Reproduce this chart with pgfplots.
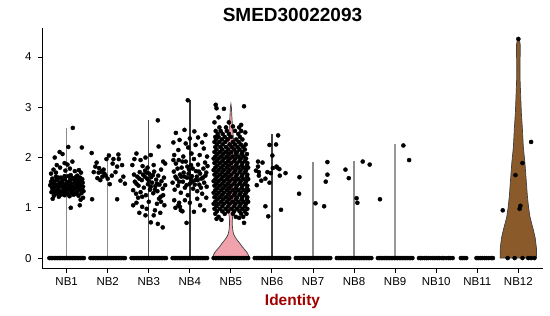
\documentclass[border=0pt]{standalone}
\usepackage{pgfplots}
\pgfplotsset{compat=1.18}
\usepackage{fontspec}
\setmainfont{Liberation Sans}
\definecolor{vpink}{HTML}{F0A3AD}
\definecolor{vbrown}{HTML}{8B5A2B}
\definecolor{labred}{HTML}{A00000}
\begin{document}
\begin{tikzpicture}
\useasboundingbox (0,0) rectangle (550pt,316pt);
\begin{axis}[
  at={(42pt,47pt)}, anchor=south west,
  scale only axis, width=501pt, height=241pt,
  xmin=0.4, xmax=12.6, ymin=-0.218, ymax=4.578,
  axis x line*=bottom, axis y line*=left,
  axis line style={-, black, line width=1pt},
  xtick={1,...,12},
  xticklabels={NB1,NB2,NB3,NB4,NB5,NB6,NB7,NB8,NB9,NB10,NB11,NB12},
  ytick={0,1,2,3,4},
  tick align=outside, major tick length=4pt,
  tick style={black, line width=1pt},
  /pgf/number format/assume math mode=true,
  ticklabel style={font=\fontsize{11.5}{13}\selectfont, text=black},
  yticklabel style={xshift=-3pt},
  xticklabel style={yshift=-1pt},
  every mark/.append style={solid},
]
% thin violins
\addplot[color=black!45, line width=1.4pt] coordinates {(1,0) (1,2.58)};
\addplot[color=black!45, line width=1.4pt] coordinates {(2,0) (2,2.09)};
\addplot[color=black!70, line width=1.4pt] coordinates {(3,0) (3,2.74)};
\addplot[color=black!80, line width=1.4pt] coordinates {(4,0) (4,3.14)};
\addplot[color=black!75, line width=1.4pt] coordinates {(6,0) (6,2.46)};
\addplot[color=black!45, line width=1.4pt] coordinates {(7,0) (7,1.92)};
\addplot[color=black!45, line width=1.4pt] coordinates {(8,0) (8,1.94)};
\addplot[color=black!40, line width=1.4pt] coordinates {(9,0) (9,2.26)};
% NB5 violin
\addplot[fill=vpink, draw=black!75, line width=0.7pt] coordinates {
(4.56,0) (4.57,0.05) (4.60,0.10) (4.66,0.165) (4.72,0.22) (4.79,0.30) (4.85,0.36) (4.90,0.42) (4.935,0.48) (4.955,0.56) (4.965,0.65) (4.965,0.75) (4.955,0.85) (4.93,1.0) (4.90,1.2) (4.88,1.4) (4.88,1.6) (4.89,1.8) (4.90,2.0) (4.92,2.2) (4.94,2.4) (4.96,2.6) (4.975,2.8) (4.988,3.0) (5,3.07)
(5.012,3.0) (5.025,2.8) (5.04,2.6) (5.06,2.4) (5.08,2.2) (5.10,2.0) (5.11,1.8) (5.12,1.6) (5.12,1.4) (5.10,1.2) (5.07,1.0) (5.045,0.85) (5.035,0.75) (5.035,0.65) (5.045,0.56) (5.065,0.48) (5.10,0.42) (5.15,0.36) (5.21,0.30) (5.28,0.22) (5.34,0.165) (5.40,0.10) (5.43,0.05) (5.44,0) (4.56,0)};
% NB12 violin
\addplot[fill=vbrown, draw=black!75, line width=0.7pt] coordinates {
(11.555,0) (11.56,0.2) (11.59,0.4) (11.635,0.56) (11.68,0.7) (11.72,0.83) (11.75,1.0) (11.78,1.23) (11.81,1.56) (11.84,1.89) (11.88,2.22) (11.90,2.55) (11.927,2.89) (11.943,3.22) (11.958,3.55) (11.96,3.88) (11.954,4.1) (11.955,4.25) (11.97,4.32) (12,4.36)
(12.03,4.32) (12.045,4.25) (12.046,4.1) (12.04,3.88) (12.042,3.55) (12.057,3.22) (12.073,2.89) (12.10,2.55) (12.12,2.22) (12.16,1.89) (12.19,1.56) (12.22,1.23) (12.25,1.0) (12.28,0.83) (12.32,0.7) (12.365,0.56) (12.41,0.4) (12.44,0.2) (12.445,0) (11.555,0)};
% points
\pgfplotsset{pts/.style={only marks, mark=*, mark size=2.05pt, black, mark options={draw=none, fill=black}}}
% zeros
\addplot[pts] coordinates {
(0.58,0) (0.62,0) (0.66,0) (0.70,0) (0.74,0) (0.78,0) (0.82,0) (0.86,0) (0.90,0) (0.94,0) (0.98,0) (1.02,0) (1.06,0) (1.10,0) (1.14,0) (1.18,0) (1.22,0) (1.26,0) (1.30,0) (1.34,0) (1.38,0) (1.42,0)
(1.58,0) (1.62,0) (1.66,0) (1.70,0) (1.74,0) (1.78,0) (1.82,0) (1.86,0) (1.90,0) (1.94,0) (1.98,0) (2.02,0) (2.06,0) (2.10,0) (2.14,0) (2.18,0) (2.22,0) (2.26,0) (2.30,0) (2.34,0) (2.38,0) (2.42,0)
(2.58,0) (2.62,0) (2.66,0) (2.70,0) (2.74,0) (2.78,0) (2.82,0) (2.86,0) (2.90,0) (2.94,0) (2.98,0) (3.02,0) (3.06,0) (3.10,0) (3.14,0) (3.18,0) (3.22,0) (3.26,0) (3.30,0) (3.34,0) (3.38,0) (3.42,0)
(3.58,0) (3.62,0) (3.66,0) (3.70,0) (3.74,0) (3.78,0) (3.82,0) (3.86,0) (3.90,0) (3.94,0) (3.98,0) (4.02,0) (4.06,0) (4.10,0) (4.14,0) (4.18,0) (4.22,0) (4.26,0) (4.30,0) (4.34,0) (4.38,0) (4.42,0)
(4.58,0) (4.62,0) (4.66,0) (4.70,0) (4.74,0) (4.78,0) (4.82,0) (4.86,0) (4.90,0) (4.94,0) (4.98,0) (5.02,0) (5.06,0) (5.10,0) (5.14,0) (5.18,0) (5.22,0) (5.26,0) (5.30,0) (5.34,0) (5.38,0) (5.42,0)
(5.58,0) (5.62,0) (5.66,0) (5.70,0) (5.74,0) (5.78,0) (5.82,0) (5.86,0) (5.90,0) (5.94,0) (5.98,0) (6.02,0) (6.06,0) (6.10,0) (6.14,0) (6.18,0) (6.22,0) (6.26,0) (6.30,0) (6.34,0) (6.38,0) (6.42,0)
(6.58,0) (6.62,0) (6.66,0) (6.70,0) (6.74,0) (6.78,0) (6.82,0) (6.86,0) (6.90,0) (6.94,0) (6.98,0) (7.02,0) (7.06,0) (7.10,0) (7.14,0) (7.18,0) (7.22,0) (7.26,0) (7.30,0) (7.34,0) (7.38,0) (7.42,0)
(7.58,0) (7.62,0) (7.66,0) (7.70,0) (7.74,0) (7.78,0) (7.82,0) (7.86,0) (7.90,0) (7.94,0) (7.98,0) (8.02,0) (8.06,0) (8.10,0) (8.14,0) (8.18,0) (8.22,0) (8.26,0) (8.30,0) (8.34,0) (8.38,0) (8.42,0)
(8.58,0) (8.62,0) (8.66,0) (8.70,0) (8.74,0) (8.78,0) (8.82,0) (8.86,0) (8.90,0) (8.94,0) (8.98,0) (9.02,0) (9.06,0) (9.10,0) (9.14,0) (9.18,0) (9.22,0) (9.26,0) (9.30,0) (9.34,0) (9.38,0) (9.42,0)
(9.58,0) (9.62,0) (9.66,0) (9.72,0) (9.76,0) (9.80,0) (9.86,0) (9.92,0) (9.97,0) (10.03,0) (10.08,0) (10.14,0) (10.18,0) (10.24,0) (10.30,0) (10.34,0) (10.40,0)
(10.60,0) (10.64,0) (10.68,0) (10.73,0) (10.98,0) (11.02,0) (11.07,0) (11.12,0) (11.18,0) (11.22,0) (11.28,0) (11.34,0) (11.38,0)
(11.74,0) (11.91,0) (12.10,0) (12.24,0) (12.31,0) (12.39,0)};
% NB1
\addplot[pts] coordinates {
(0.60,1.45) (0.63,1.31) (0.65,1.58) (0.67,1.40) (0.69,1.24) (0.70,1.52) (0.72,1.35) (0.74,1.62) (0.75,1.46) (0.77,1.28) (0.78,1.55) (0.80,1.39) (0.81,1.22) (0.83,1.49) (0.84,1.33) (0.86,1.60) (0.87,1.43) (0.89,1.27) (0.90,1.54) (0.92,1.37) (0.93,1.47) (0.95,1.25) (0.96,1.57) (0.98,1.41) (0.99,1.30) (1.01,1.51) (1.02,1.36) (1.04,1.63) (1.05,1.44) (1.07,1.23) (1.08,1.53) (1.10,1.34) (1.11,1.48) (1.13,1.29) (1.14,1.59) (1.16,1.42) (1.17,1.26) (1.19,1.50) (1.20,1.38) (1.22,1.61) (1.23,1.45) (1.25,1.31) (1.26,1.55) (1.28,1.40) (1.29,1.24) (1.31,1.52) (1.32,1.36) (1.34,1.47) (1.36,1.29) (1.38,1.57) (1.40,1.42) (1.41,1.33)
(0.62,1.52) (0.66,1.36) (0.68,1.48) (0.71,1.29) (0.73,1.43) (0.76,1.56) (0.79,1.32) (0.82,1.44) (0.85,1.26) (0.88,1.51) (0.91,1.30) (0.94,1.42) (0.97,1.35) (1.00,1.46) (1.03,1.28) (1.06,1.39) (1.09,1.58) (1.12,1.40) (1.15,1.33) (1.18,1.56) (1.21,1.28) (1.24,1.39) (1.27,1.48) (1.30,1.43) (1.33,1.60) (1.37,1.38) (1.39,1.50) (0.64,1.41) (0.80,1.60) (0.95,1.63) (1.10,1.65) (1.26,1.64)
(0.68,1.76) (0.76,1.85) (0.84,1.80) (0.95,1.89) (1.02,1.86) (0.71,2.00) (0.90,2.07) (0.83,2.11) (1.14,1.92) (1.04,2.21) (1.37,2.20) (1.15,2.59) (0.74,1.70) (1.20,1.73) (1.30,1.75) (0.62,1.68) (1.35,1.70) (0.97,1.74) (1.08,1.78)
(1.10,1.00) (1.32,1.05) (1.34,1.16) (0.66,1.18) (1.40,1.20)};
% NB2
\addplot[pts] coordinates {
(1.61,2.09) (1.73,1.90) (1.66,1.71) (1.97,1.97) (2.03,2.04) (2.14,1.97) (2.26,2.06) (2.27,1.97) (2.23,1.82) (2.19,1.71) (2.31,1.54) (2.05,1.47) (1.87,1.62) (1.95,1.64) (1.79,1.79) (1.85,1.72) (1.75,1.59) (1.62,1.17) (2.23,1.17) (1.70,1.82) (1.90,1.76) (2.10,1.64) (2.00,1.58) (2.38,1.62) (2.42,1.48) (1.78,1.70) (2.12,1.88) (1.92,1.68) (1.82,1.55) (2.35,1.85)};
% NB3
\addplot[pts] coordinates {
(2.62,1.35) (2.66,1.52) (2.69,1.28) (2.72,1.62) (2.75,1.44) (2.78,1.71) (2.80,1.31) (2.83,1.55) (2.86,1.66) (2.88,1.40) (2.91,1.74) (2.93,1.25) (2.96,1.58) (2.98,1.47) (3.01,1.68) (3.03,1.36) (3.06,1.61) (3.08,1.50) (3.11,1.29) (3.13,1.72) (3.16,1.43) (3.18,1.56) (3.21,1.33) (3.23,1.64) (3.26,1.46) (3.29,1.22) (3.31,1.53) (3.34,1.38) (3.37,1.60) (3.40,1.45) (2.70,1.48) (2.77,1.58) (2.84,1.22) (2.90,1.62) (2.95,1.70) (3.00,1.54) (3.05,1.42) (3.10,1.65) (3.15,1.36) (3.20,1.48) (3.25,1.18) (3.30,1.76) (2.64,1.66) (2.74,1.20) (2.97,1.80) (3.12,1.85) (2.85,1.83) (3.35,1.25)
(2.65,1.97) (2.70,2.08) (3.22,2.74) (3.24,2.22) (2.80,1.95) (3.35,1.92) (3.05,2.05) (2.92,2.00) (3.40,1.88) (2.60,1.85)
(2.77,0.90) (2.92,0.85) (3.05,0.71) (3.22,0.68) (3.34,0.61) (2.62,1.05) (2.84,1.02) (3.15,0.95) (3.28,0.90) (3.38,1.05) (2.70,1.10) (3.00,1.12) (3.12,0.85) (3.30,1.12) (2.95,0.98) (3.20,1.08)};
% NB4
\addplot[pts] coordinates {
(3.58,1.50) (3.61,1.72) (3.63,1.36) (3.66,1.88) (3.68,1.58) (3.71,1.44) (3.73,1.95) (3.76,1.66) (3.78,1.30) (3.80,1.80) (3.83,1.52) (3.85,1.70) (3.88,1.40) (3.90,1.92) (3.93,1.60) (3.95,1.25) (3.98,1.76) (4.00,1.48) (4.03,1.85) (4.05,1.63) (4.08,1.38) (4.10,1.97) (4.13,1.55) (4.15,1.73) (4.18,1.33) (4.20,1.86) (4.23,1.46) (4.25,1.68) (4.28,1.58) (4.30,1.28) (4.33,1.78) (4.35,1.50) (4.38,1.64) (4.41,1.42) (4.43,1.83) (3.65,1.62) (3.74,1.52) (3.82,1.92) (3.87,1.62) (3.92,1.45) (3.97,1.68) (4.02,1.58) (4.07,1.78) (4.12,1.46) (4.17,1.62) (4.22,1.72) (4.27,1.40) (4.32,1.60) (4.37,1.90) (3.70,1.78) (3.60,1.95) (4.40,1.70) (3.79,1.62) (4.06,1.52) (4.19,1.55) (3.94,1.82)
(3.62,2.05) (3.72,2.15) (3.84,2.02) (3.96,2.20) (4.04,2.08) (4.14,2.25) (4.24,2.05) (4.34,2.18) (4.42,2.02) (3.66,2.49) (3.87,2.55) (4.11,2.52) (3.95,3.14) (3.75,2.35) (4.20,2.40) (4.30,2.30) (3.60,2.30) (4.00,2.38) (4.38,2.45) (3.90,2.28)
(3.74,1.10) (3.76,1.02) (3.78,0.95) (3.82,0.93) (3.72,1.05) (3.92,0.70) (4.10,0.92) (4.25,1.05) (4.35,0.95) (3.62,1.15) (4.00,1.10) (4.18,1.18) (3.88,1.15) (4.40,1.20) (3.65,1.00)};
% NB5
\addplot[pts] coordinates {
(4.70,0.82) (5.12,0.82) (5.30,0.82)
(4.62,0.88) (4.85,0.88) (5.05,0.88) (5.25,0.88) (5.38,0.88)
(4.66,0.93) (4.79,0.93) (4.93,0.93) (5.08,0.93) (5.21,0.93) (5.34,0.93)
(4.60,0.98) (4.73,0.98) (4.87,0.98) (5.01,0.98) (5.15,0.98) (5.28,0.98) (5.40,0.98)
(4.65,1.03) (4.79,1.03) (4.93,1.03) (5.08,1.03) (5.21,1.03) (5.34,1.03)
(4.58,1.08) (4.70,1.08) (4.83,1.08) (4.97,1.08) (5.11,1.08) (5.24,1.08) (5.37,1.08)
(4.62,1.12) (4.76,1.12) (4.90,1.12) (5.04,1.12) (5.18,1.12) (5.31,1.12) (5.42,1.12)
(4.67,1.17) (4.81,1.17) (4.95,1.17) (5.12,1.17) (5.26,1.17) (5.39,1.17)
(4.60,1.21) (4.73,1.21) (4.87,1.21) (5.01,1.21) (5.15,1.21) (5.28,1.21) (5.40,1.21)
(4.65,1.26) (4.79,1.26) (4.93,1.26) (5.08,1.26) (5.21,1.26) (5.34,1.26)
(4.58,1.30) (4.70,1.30) (4.83,1.30) (4.97,1.30) (5.11,1.30) (5.24,1.30) (5.37,1.30)
(4.62,1.35) (4.76,1.35) (4.90,1.35) (5.04,1.35) (5.18,1.35) (5.31,1.35) (5.42,1.35)
(4.67,1.39) (4.81,1.39) (4.95,1.39) (5.12,1.39) (5.26,1.39) (5.39,1.39)
(4.60,1.44) (4.73,1.44) (4.87,1.44) (5.01,1.44) (5.15,1.44) (5.28,1.44) (5.40,1.44)
(4.65,1.48) (4.79,1.48) (4.93,1.48) (5.08,1.48) (5.21,1.48) (5.34,1.48)
(4.58,1.53) (4.70,1.53) (4.83,1.53) (4.97,1.53) (5.11,1.53) (5.24,1.53) (5.37,1.53)
(4.62,1.57) (4.76,1.57) (4.90,1.57) (5.04,1.57) (5.18,1.57) (5.31,1.57) (5.42,1.57)
(4.67,1.62) (4.81,1.62) (4.95,1.62) (5.12,1.62) (5.26,1.62) (5.39,1.62)
(4.60,1.66) (4.73,1.66) (4.87,1.66) (5.01,1.66) (5.15,1.66) (5.28,1.66) (5.40,1.66)
(4.65,1.71) (4.79,1.71) (4.93,1.71) (5.08,1.71) (5.21,1.71) (5.34,1.71)
(4.58,1.75) (4.70,1.75) (4.83,1.75) (4.97,1.75) (5.11,1.75) (5.24,1.75) (5.37,1.75)
(4.62,1.80) (4.76,1.80) (4.90,1.80) (5.04,1.80) (5.18,1.80) (5.31,1.80) (5.42,1.80)
(4.67,1.84) (4.81,1.84) (4.95,1.84) (5.12,1.84) (5.26,1.84) (5.39,1.84)
(4.60,1.89) (4.73,1.89) (4.87,1.89) (5.01,1.89) (5.15,1.89) (5.28,1.89) (5.40,1.89)
(4.65,1.93) (4.79,1.93) (4.93,1.93) (5.08,1.93) (5.21,1.93) (5.34,1.93)
(4.58,1.98) (4.70,1.98) (4.83,1.98) (4.97,1.98) (5.11,1.98) (5.24,1.98) (5.37,1.98)
(4.62,2.02) (4.76,2.02) (4.90,2.02) (5.04,2.02) (5.18,2.02) (5.31,2.02)
(4.67,2.07) (4.81,2.07) (4.95,2.07) (5.12,2.07) (5.26,2.07) (5.39,2.07)
(4.60,2.11) (4.73,2.11) (4.87,2.11) (5.01,2.11) (5.15,2.11) (5.28,2.11)
(4.65,2.16) (4.79,2.16) (4.93,2.16) (5.08,2.16) (5.21,2.16) (5.34,2.16)
(4.62,2.21) (4.74,2.21) (4.88,2.21) (5.02,2.21) (5.16,2.21) (5.30,2.21)
(4.66,2.26) (4.80,2.26) (4.97,2.26) (5.10,2.26) (5.24,2.26) (5.36,2.26)
(4.60,2.31) (4.72,2.31) (4.86,2.31) (5.05,2.31) (5.19,2.31)
(4.64,2.36) (4.78,2.36) (4.92,2.36) (5.13,2.36) (5.28,2.36)
(4.62,2.41) (4.70,2.41) (4.85,2.41) (5.00,2.41) (5.22,2.41)
(4.68,2.47) (4.80,2.47) (4.95,2.47) (5.18,2.47)
(4.63,2.53) (4.75,2.53) (4.90,2.53) (5.10,2.53) (5.25,2.53)
(4.72,2.60) (4.88,2.60) (5.20,2.60)
(4.63,3.05) (4.65,2.98) (4.83,2.97) (5.32,3.02) (4.70,2.80) (5.25,2.65) (4.95,2.70) (5.05,2.62) (5.35,2.50) (4.60,2.70)
(4.65,0.78) (4.77,0.76) (5.32,0.70) (5.20,0.80)};
% NB6
\addplot[pts] coordinates {
(6.15,2.44) (5.94,2.25) (6.10,2.26) (6.01,2.04) (5.66,1.92) (5.77,1.90) (5.66,1.82) (5.61,1.74) (5.68,1.71) (5.68,1.64) (5.89,1.71) (5.97,1.69) (6.02,1.79) (6.13,1.80) (6.18,1.77) (6.33,1.69) (6.19,1.64) (5.84,1.58) (5.74,1.54) (5.94,1.50) (5.63,1.45) (5.84,1.03) (6.22,0.96) (5.91,0.83) (6.11,1.82)};
% NB7
\addplot[pts] coordinates {
(6.67,1.61) (6.66,1.28) (7.06,1.09) (7.27,1.03) (7.35,1.91) (7.35,1.66) (7.31,1.52)};
% NB8
\addplot[pts] coordinates {
(7.79,1.76) (7.87,1.59) (8.06,1.19) (8.08,1.10) (8.21,1.92) (8.38,1.86)};
% NB9
\addplot[pts] coordinates {
(8.63,1.17) (9.20,2.24) (9.34,1.95)};
% NB12
\addplot[pts] coordinates {
(12.00,4.36) (12.31,2.31) (12.10,1.89) (11.93,1.65) (12.05,1.04) (12.03,0.98) (11.62,0.95)};
\end{axis}
\node[anchor=base, font=\fontsize{19}{22}\selectfont\bfseries] at (292.5pt,294.3pt) {SMED30022093};
\node[anchor=base, font=\fontsize{15.5}{18}\selectfont\bfseries, text=labred] at (292.5pt,10.7pt) {Identity};
\end{tikzpicture}
\end{document}
